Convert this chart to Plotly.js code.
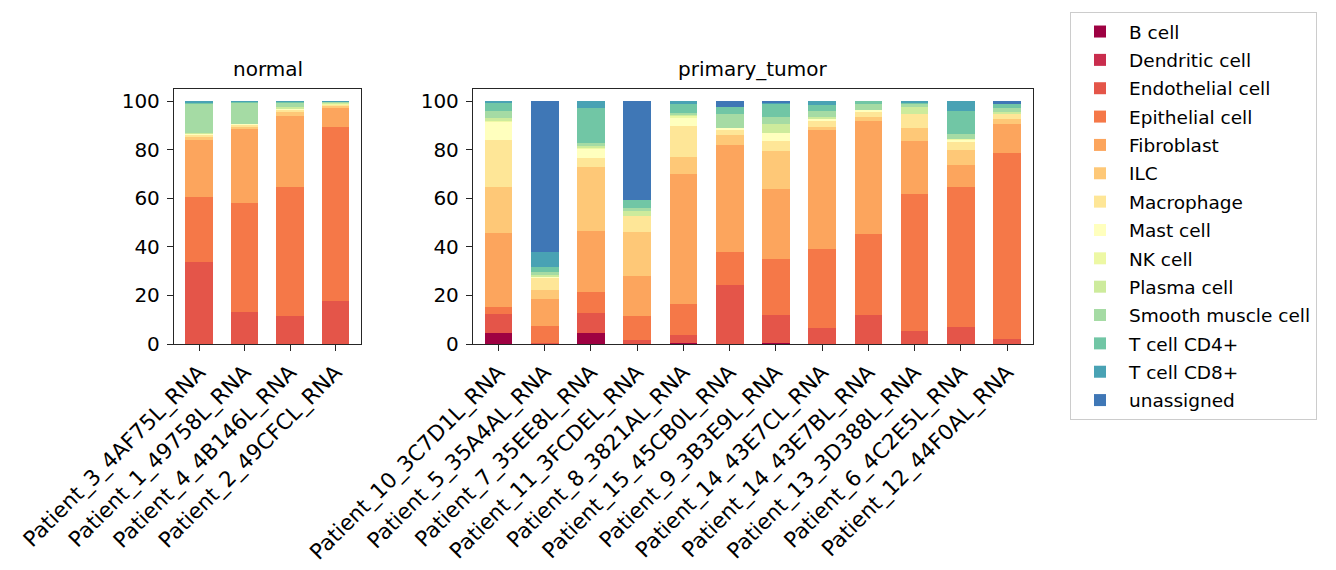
<!DOCTYPE html>
<html>
<head>
<meta charset="utf-8">
<script src="https://cdn.plot.ly/plotly-3.0.1.min.js"></script>
<style>
  body { margin: 0; background: #fff; }
  #graph { width: 1336px; height: 570px; }
</style>
</head>
<body>
<div id="graph"></div>
<script>
const cellTypes = [
  "B cell", "Dendritic cell", "Endothelial cell", "Epithelial cell", "Fibroblast",
  "ILC", "Macrophage", "Mast cell", "NK cell", "Plasma cell",
  "Smooth muscle cell", "T cell CD4+", "T cell CD8+", "unassigned"
];
const colors = [
  "#9e0142", "#c92d4d", "#e45549", "#f57848", "#fca55d",
  "#fec877", "#fee697", "#ffffbe", "#edf8a4", "#cdeb9c",
  "#a5dba4", "#71c6a5", "#49a2b4", "#3f77b6"
];

const normalSamples = [
  "Patient_3_4AF75L_RNA", "Patient_1_49758L_RNA", "Patient_4_4B146L_RNA", "Patient_2_49CFCL_RNA"
];
const tumorSamples = [
  "Patient_10_3C7D1L_RNA", "Patient_5_35A4AL_RNA", "Patient_7_35EE8L_RNA", "Patient_11_3FCDEL_RNA",
  "Patient_8_3821AL_RNA", "Patient_15_45CB0L_RNA", "Patient_9_3B3E9L_RNA", "Patient_14_43E7CL_RNA",
  "Patient_14_43E7BL_RNA", "Patient_13_3D388L_RNA", "Patient_6_4C2E5L_RNA", "Patient_12_44F0AL_RNA"
];

// percent of cells per sample, in cellTypes order
const patient3 = [0, 0, 33.6, 26.8, 23.6, 1.6, 0.5, 0.4, 0.2, 0.1, 12.3, 0.4, 0.5, 0];
const patient1 = [0, 0, 13.3, 44.6, 30.9, 0.8, 0.8, 0.1, 0, 0, 9.1, 0.1, 0.3, 0];
const patient4 = [0, 0, 11.4, 53.1, 29.3, 2.1, 0.8, 0.2, 0.1, 0.5, 2.0, 0.2, 0.3, 0];
const patient2 = [0, 0, 17.9, 71.3, 7.9, 1.2, 0.4, 0.1, 0.1, 0.4, 0.5, 0.1, 0.1, 0];

const patient10 = [4.7, 0, 7.8, 2.9, 30.5, 18.6, 19.4, 7.8, 0.3, 1.0, 2.8, 3.3, 0.9, 0];
const patient5 = [0, 0, 0.5, 6.8, 11.4, 3.4, 5.4, 0.3, 0, 0.5, 1.2, 2.4, 5.8, 62.3];
const patient7 = [4.7, 0, 8.2, 8.7, 25.1, 26.1, 3.7, 3.9, 0.4, 0.7, 1.1, 14.5, 2.9, 0];
const patient11 = [0, 0, 1.8, 9.9, 16.1, 18.5, 6.6, 0, 0, 2.1, 0.8, 3.7, 0, 40.5];
const patient8 = [0.6, 0, 3.2, 12.8, 53.2, 7.0, 12.9, 3.3, 1.0, 0.5, 0.5, 3.7, 1.3, 0];
const patient15 = [0, 0, 24.5, 13.2, 44.1, 4.1, 2.5, 0.4, 0, 0, 5.8, 2.9, 0, 2.5];
const patient9 = [0.6, 0, 11.5, 23.1, 28.5, 15.7, 4.1, 3.3, 0, 3.7, 2.9, 5.8, 0.4, 0.4];
const patient14C = [0, 0, 6.7, 32.6, 48.7, 1.2, 2.9, 0.8, 0, 0.5, 2.4, 2.5, 1.7, 0];
const patient14B = [0, 0, 12.1, 33.0, 46.6, 1.7, 2.4, 0.5, 0, 0, 2.9, 0.8, 0, 0];
const patient13 = [0, 0, 5.5, 56.1, 21.9, 5.3, 5.8, 0, 0, 2.9, 1.7, 0.4, 0.4, 0];
const patient6 = [0, 0, 7.1, 57.4, 9.1, 6.2, 3.4, 0.8, 0.4, 0, 2.0, 9.4, 4.2, 0];
const patient12 = [0, 0, 2.2, 76.3, 12.0, 2.1, 2.4, 0, 0, 0.4, 1.7, 1.6, 0, 1.3];

const normalRows = [patient3, patient1, patient4, patient2];
const tumorRows = [patient10, patient5, patient7, patient11, patient8, patient15,
  patient9, patient14C, patient14B, patient13, patient6, patient12];

const fontFamily = "DejaVu Sans, Arial, sans-serif";
const W = 1336, H = 570;

function makeTraces(samples, rows, xaxis, yaxis, legend) {
  return cellTypes.map((name, i) => ({
    type: "bar",
    name: name,
    x: samples,
    y: rows.map(r => r[i]),
    xaxis: xaxis,
    yaxis: yaxis,
    width: 0.6,
    marker: { color: colors[i], line: { width: 0 } },
    legendgroup: name,
    showlegend: legend,
    hovertemplate: "%{x}<br>" + name + ": %{y}%<extra></extra>"
  }));
}

const data = [
  ...makeTraces(normalSamples, normalRows, "x", "y", true),
  ...makeTraces(tumorSamples, tumorRows, "x2", "y2", false)
];

const axisStyle = {
  showline: true,
  mirror: true,
  linecolor: "#262626",
  linewidth: 1.3,
  ticks: "outside",
  ticklen: 6,
  tickwidth: 1.3,
  tickcolor: "#262626",
  showgrid: false,
  zeroline: false,
  tickfont: { family: fontFamily, size: 20, color: "#000" }
};
const xTickFont = { family: fontFamily, size: 21.5, color: "#000" };

const layout = {
  width: W,
  height: H,
  margin: { l: 0, r: 0, t: 0, b: 0 },
  paper_bgcolor: "#fff",
  plot_bgcolor: "#fff",
  barmode: "stack",
  bargap: 0.4,
  font: { family: fontFamily, color: "#000" },
  xaxis: Object.assign({}, axisStyle, {
    domain: [174 / W, 361 / W],
    anchor: "y",
    tickangle: -45,
    tickfont: xTickFont,
    range: [-0.55, 3.56],
    automargin: false
  }),
  yaxis: Object.assign({}, axisStyle, {
    domain: [1 - 344 / H, 1 - 89 / H],
    anchor: "x",
    range: [0, 105],
    tickvals: [0, 20, 40, 60, 80, 100],
    ticklabelstandoff: 3,
    automargin: false
  }),
  xaxis2: Object.assign({}, axisStyle, {
    domain: [473 / W, 1033 / W],
    anchor: "y2",
    tickangle: -45,
    tickfont: xTickFont,
    range: [-0.55, 11.56],
    automargin: false
  }),
  yaxis2: Object.assign({}, axisStyle, {
    domain: [1 - 344 / H, 1 - 89 / H],
    anchor: "x2",
    range: [0, 105],
    tickvals: [0, 20, 40, 60, 80, 100],
    ticklabelstandoff: 3,
    automargin: false
  }),
  annotations: [
    {
      text: "normal", xref: "x domain", yref: "y domain", x: 0.5, y: 1,
      yshift: 6, xanchor: "center", yanchor: "bottom", showarrow: false,
      font: { family: fontFamily, size: 20, color: "#000" }
    },
    {
      text: "primary_tumor", xref: "x2 domain", yref: "y2 domain", x: 0.5, y: 1,
      yshift: 6, xanchor: "center", yanchor: "bottom", showarrow: false,
      font: { family: fontFamily, size: 20, color: "#000" }
    }
  ],
  legend: {
    x: 1070 / W,
    y: 1 - 12 / H,
    xanchor: "left",
    yanchor: "top",
    traceorder: "grouped",
    tracegroupgap: 1.3,
    itemwidth: 48,
    bgcolor: "#fff",
    bordercolor: "#cccccc",
    borderwidth: 1,
    font: { family: fontFamily, size: 18.5, color: "#000" }
  },
  showlegend: true
};

Plotly.newPlot("graph", data, layout, { displayModeBar: false, responsive: false });
</script>
</body>
</html>
